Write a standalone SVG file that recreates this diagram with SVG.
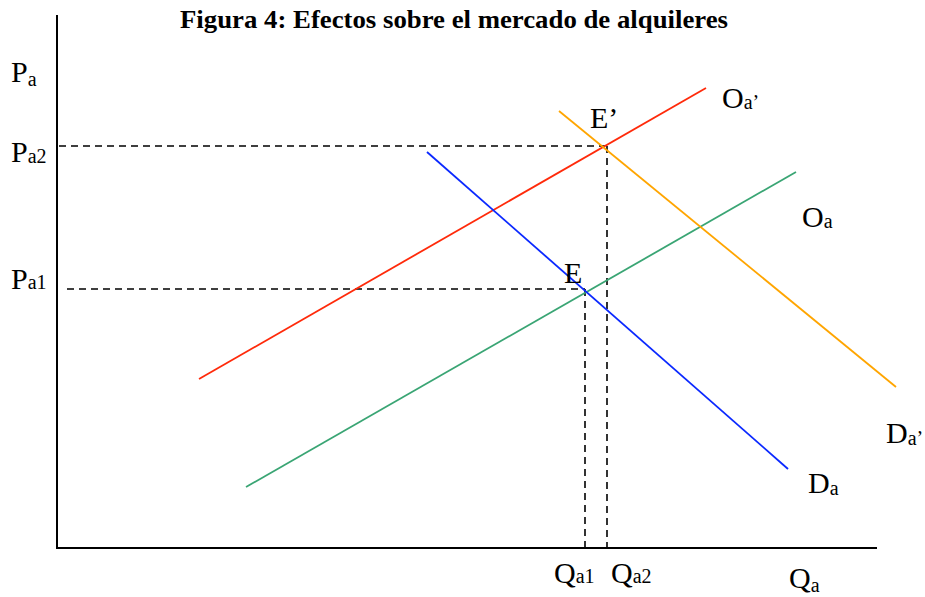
<svg xmlns="http://www.w3.org/2000/svg" width="925" height="597" viewBox="0 0 925 597">
<style>
text{font-family:"Liberation Serif","Times New Roman",serif;fill:#000}
.lbl{font-size:30px}
.sub{font-size:20px}
.title{font-size:25px;font-weight:bold}
.axis{stroke:#000;stroke-width:2;fill:none}
.dash{stroke:#000;stroke-width:1.6;stroke-dasharray:7,5;fill:none}
.curve{stroke-width:1.8;fill:none}
</style>
<rect width="925" height="597" fill="#fff"/>
<text class="title" x="180" y="28" textLength="548" lengthAdjust="spacingAndGlyphs">Figura 4: Efectos sobre el mercado de alquileres</text>
<g id="axes">
<line class="axis" x1="57" y1="15" x2="57" y2="549"/>
<line class="axis" x1="56" y1="548" x2="877" y2="548"/>
</g>
<g id="connectors">
<line class="dash" x1="59" y1="146" x2="605" y2="146"/>
<line class="dash" x1="607" y1="146" x2="607" y2="547"/>
<line class="dash" x1="67" y1="289" x2="585" y2="289"/>
<line class="dash" x1="585" y1="289" x2="585" y2="547"/>
</g>
<g id="Oa2"><line class="curve" stroke="#FF2A0A" x1="199" y1="379" x2="706" y2="88"/>
<text class="lbl" x="722" y="108">O<tspan class="sub" dy="1">a’</tspan></text></g>
<g id="Oa"><line class="curve" stroke="#3AA574" x1="246" y1="487" x2="796" y2="172"/>
<text class="lbl" x="802" y="227">O<tspan class="sub" dy="1">a</tspan></text></g>
<g id="Da"><line class="curve" stroke="#0A28FF" x1="427" y1="152" x2="788" y2="469"/>
<text class="lbl" x="808" y="493">D<tspan class="sub" dy="2">a</tspan></text></g>
<g id="Da2"><line class="curve" stroke="#FFA500" x1="559" y1="111" x2="896" y2="387"/>
<text class="lbl" x="886" y="443">D<tspan class="sub" dy="2">a’</tspan></text></g>
<g id="Eprime"><text class="lbl" x="590" y="128">E’</text></g>
<g id="E"><text class="lbl" x="564" y="283">E</text></g>
<g id="Pa"><text class="lbl" x="11" y="82">P<tspan class="sub" dy="4">a</tspan></text></g>
<g id="Pa2"><text class="lbl" x="11" y="162">P<tspan class="sub" dy="1">a2</tspan></text></g>
<g id="Pa1"><text class="lbl" x="11" y="289">P<tspan class="sub" dy="0">a1</tspan></text></g>
<g id="Qa1"><text class="lbl" x="554" y="583">Q<tspan class="sub" dy="0">a1</tspan></text></g>
<g id="Qa2"><text class="lbl" x="611" y="583">Q<tspan class="sub" dy="0">a2</tspan></text></g>
<g id="Qa"><text class="lbl" x="789" y="588">Q<tspan class="sub" dy="4">a</tspan></text></g>
</svg>
